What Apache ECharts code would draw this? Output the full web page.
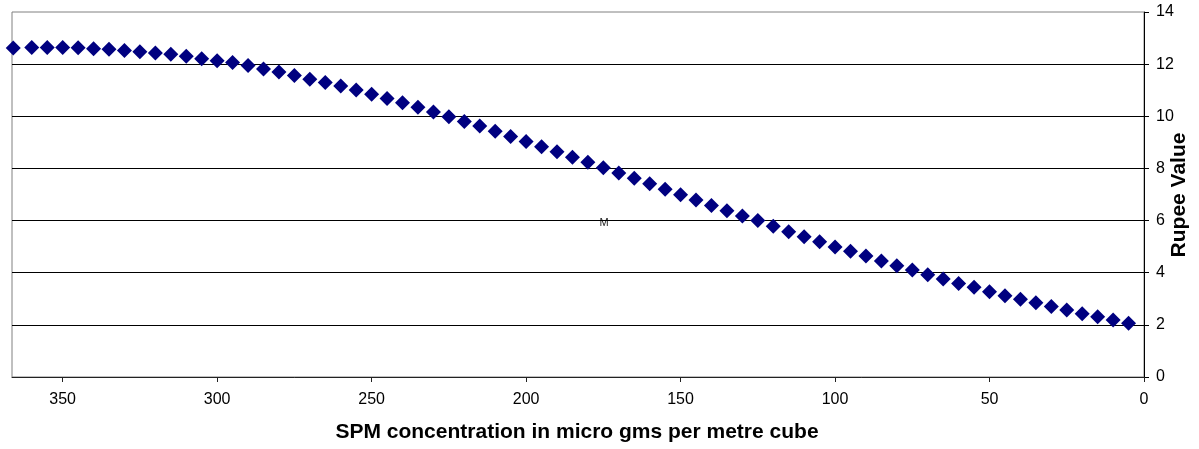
<!DOCTYPE html>
<html>
<head>
<meta charset="utf-8">
<script src="https://cdn.jsdelivr.net/npm/echarts@6/dist/echarts.min.js"></script>
<style>
html,body{margin:0;padding:0;background:#fff;}
#chart{width:1199px;height:449px;}
</style>
</head>
<body>
<div id="chart"></div>
<script>
var spmConcentration = [366, 360, 355, 350, 345, 340, 335, 330, 325, 320, 315, 310, 305, 300, 295, 290, 285, 280, 275, 270, 265, 260, 255, 250, 245, 240, 235, 230, 225, 220, 215, 210, 205, 200, 195, 190, 185, 180, 175, 170, 165, 160, 155, 150, 145, 140, 135, 130, 125, 120, 115, 110, 105, 100, 95, 90, 85, 80, 75, 70, 65, 60, 55, 50, 45, 40, 35, 30, 25, 20, 15, 10, 5];
var rupeeValue = [12.62, 12.64, 12.64, 12.64, 12.63, 12.59, 12.57, 12.52, 12.48, 12.43, 12.38, 12.30, 12.21, 12.13, 12.06, 11.95, 11.81, 11.70, 11.56, 11.42, 11.30, 11.16, 11.01, 10.85, 10.68, 10.52, 10.35, 10.16, 9.98, 9.80, 9.63, 9.43, 9.22, 9.03, 8.83, 8.64, 8.43, 8.24, 8.03, 7.82, 7.62, 7.41, 7.20, 6.99, 6.79, 6.58, 6.38, 6.18, 6.00, 5.78, 5.57, 5.38, 5.19, 4.99, 4.82, 4.64, 4.45, 4.27, 4.10, 3.92, 3.76, 3.59, 3.44, 3.27, 3.12, 2.98, 2.85, 2.70, 2.57, 2.43, 2.31, 2.19, 2.06];
var xTickLabels = [0, 50, 100, 150, 200, 250, 300, 350];
var yTickLabels = [0, 2, 4, 6, 8, 10, 12, 14];
var xTitle = 'SPM concentration in micro gms per metre cube';
var yTitle = 'Rupee Value';
var strayLabel = 'M';

var FONT = "'Liberation Sans', Arial, sans-serif";
var points = spmConcentration.map(function (x, i) { return [x, rupeeValue[i]]; });

var chart = echarts.init(document.getElementById('chart'), null, {renderer: 'canvas'});
chart.setOption({
  animation: false,
  backgroundColor: '#ffffff',
  grid: {left: 12, top: 12, right: 55, bottom: 72, show: true, borderColor: '#808080', borderWidth: 1, backgroundColor: 'transparent'},
  xAxis: {
    type: 'value', inverse: true, min: 0, max: 366.4, interval: 50,
    axisLine: {show: true, lineStyle: {color: '#222', width: 1}},
    axisTick: {show: true, inside: false, length: 5, customValues: xTickLabels, lineStyle: {color: '#222'}},
    splitLine: {show: false},
    axisLabel: {
      margin: 15, color: '#000', fontSize: 16, fontFamily: FONT, customValues: xTickLabels,
      formatter: function (v) { return xTickLabels.indexOf(v) >= 0 ? String(v) : ''; }
    }
  },
  yAxis: {
    type: 'value', position: 'right', min: 0, max: 14, interval: 2,
    axisLine: {show: true, lineStyle: {color: '#000', width: 1}},
    axisTick: {show: true, inside: false, length: 5, lineStyle: {color: '#000'}},
    splitLine: {show: true, showMaxLine: false, showMinLine: false, lineStyle: {color: '#000', width: 1}},
    axisLabel: {
      margin: 12, color: '#000', fontSize: 16, fontFamily: FONT,
      formatter: function (v) { return yTickLabels.indexOf(v) >= 0 ? String(v) : ''; }
    }
  },
  series: [{
    type: 'scatter',
    data: points,
    symbol: 'diamond',
    symbolSize: [15, 15],
    clip: false,
    itemStyle: {color: '#000080', opacity: 1}
  }],
  graphic: [
    {type: 'text', x: 577, y: 432, style: {text: xTitle, font: "bold 21px " + FONT, fill: '#000', align: 'center', verticalAlign: 'middle'}},
    {type: 'text', x: 1179, y: 195, rotation: Math.PI / 2, style: {text: yTitle, font: "bold 21px " + FONT, fill: '#000', align: 'center', verticalAlign: 'middle'}},
    {type: 'text', x: 604, y: 223, style: {text: strayLabel, font: "11px " + FONT, fill: '#222', align: 'center', verticalAlign: 'middle'}}
  ]
});
</script>
</body>
</html>
